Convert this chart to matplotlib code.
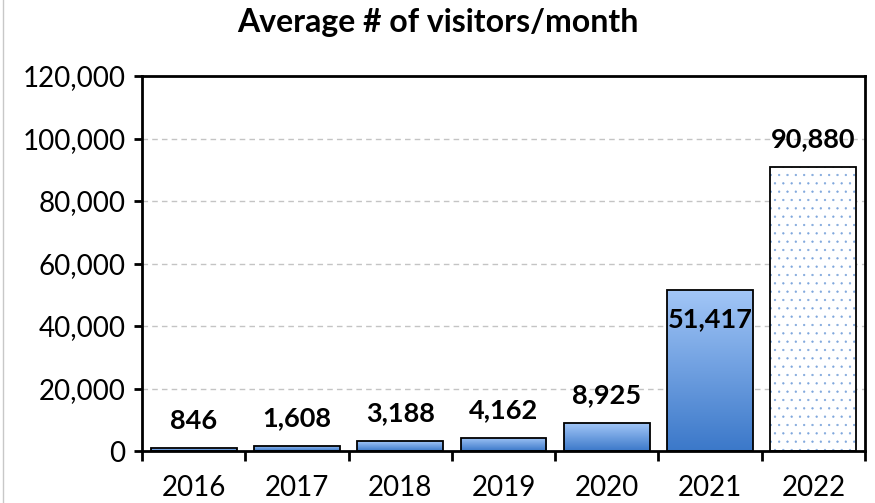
import matplotlib.pyplot as plt
import numpy as np
from matplotlib.colors import LinearSegmentedColormap
from matplotlib.lines import Line2D

years = ["2016", "2017", "2018", "2019", "2020", "2021", "2022"]
visitors = [846, 1608, 3188, 4162, 8925, 51417, 90880]
label_inside = [False, False, False, False, False, True, False]
projected = [False, False, False, False, False, False, True]

plt.rcParams['font.family'] = ['Lato', 'DejaVu Sans']
plt.rcParams['hatch.linewidth'] = 0.4

fig = plt.figure(figsize=(8.75, 5.03), dpi=100)
ax = fig.add_axes([142 / 875, 52 / 503, 723 / 875, 375 / 503])

grad = LinearSegmentedColormap.from_list("blu", ["#3b78c9", "#a2c6f7"])
x = np.arange(len(years))
width = 0.83

for xi, v, proj in zip(x, visitors, projected):
    if proj:
        # forecast year: white bar with a light blue dot pattern
        b = ax.bar(xi, v, width, color="white", edgecolor="#7ea6dc",
                   linewidth=0, hatch="..", zorder=2)
        ax.bar(xi, v, width, fill=False, edgecolor="black", linewidth=1.3, zorder=3)
    else:
        b = ax.bar(xi, v, width, color="none", edgecolor="black", linewidth=1.3, zorder=3)
        g = np.linspace(0, 1, 256).reshape(-1, 1)
        im = ax.imshow(g, cmap=grad, aspect="auto", origin="lower",
                       extent=[xi - width / 2, xi + width / 2, 0, v], zorder=2)
        im.set_clip_path(b.patches[0])

for xi, v, inside in zip(x, visitors, label_inside):
    off = -21 if inside else 20
    ax.annotate(f"{v:,}", (xi, v), xytext=(0, off), textcoords="offset points",
                ha="center", va="center", fontsize=19.5, fontweight="bold", zorder=4)

ax.set_xlim(-0.5, len(years) - 0.5)
ax.set_ylim(0, 120000)
ax.set_yticks(np.arange(0, 120001, 20000))
ax.set_yticklabels([f"{t:,}" for t in range(0, 120001, 20000)], fontsize=20)
ax.set_xticks(x)
ax.set_xticklabels(years, fontsize=20)
ax.set_xticks(np.arange(-0.5, len(years), 1), minor=True)
ax.tick_params(axis="x", which="major", length=0, pad=17)
ax.tick_params(axis="x", which="minor", length=7, width=2, direction="out")
ax.tick_params(axis="y", length=6, width=2, direction="out", pad=6)

ax.yaxis.grid(True, color="#c4c4c4", linestyle=(0, (4, 3)), linewidth=1)
ax.set_axisbelow(True)
for s in ax.spines.values():
    s.set_linewidth(2)
    s.set_color("black")

fig.text(0.5, 0.955, "Average # of visitors/month", ha="center", va="center",
         fontsize=23, fontweight="bold")
fig.add_artist(Line2D([3 / 875, 3 / 875], [0, 1], color="#c8c8c8", linewidth=1))

fig.savefig("out.png", dpi=100)
